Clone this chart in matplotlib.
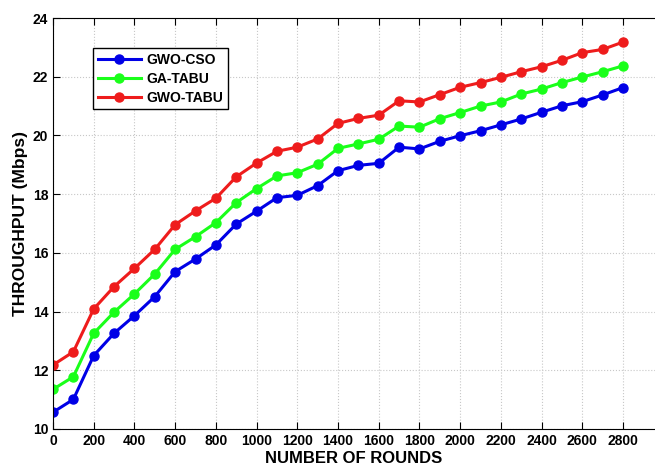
import numpy as np
import matplotlib.pyplot as plt

plt.rcParams['font.family'] = ['Liberation Sans', 'DejaVu Sans']
plt.rcParams['font.weight'] = 'bold'

# Data
rounds = np.arange(0, 2900, 100)
gwo_cso = [10.57, 11.01, 12.50, 13.26, 13.86, 14.51, 15.36, 15.79, 16.27, 16.98,
           17.42, 17.88, 17.96, 18.29, 18.80, 18.98, 19.05, 19.60, 19.54, 19.80,
           19.99, 20.16, 20.36, 20.56, 20.79, 21.01, 21.15, 21.38, 21.63]
ga_tabu = [11.35, 11.78, 13.26, 13.98, 14.60, 15.28, 16.12, 16.55, 17.03, 17.71,
           18.19, 18.62, 18.73, 19.02, 19.56, 19.71, 19.87, 20.32, 20.28, 20.57,
           20.78, 21.00, 21.14, 21.41, 21.58, 21.80, 21.99, 22.17, 22.37]
gwo_tabu = [12.18, 12.63, 14.09, 14.85, 15.47, 16.12, 16.96, 17.43, 17.86, 18.59,
            19.06, 19.46, 19.60, 19.88, 20.41, 20.58, 20.69, 21.18, 21.14, 21.39,
            21.64, 21.80, 21.98, 22.17, 22.34, 22.56, 22.82, 22.93, 23.18]
labels = ['GWO-CSO', 'GA-TABU', 'GWO-TABU']
colors = ['#0000e6', '#1aff1a', '#ee1c1c']

fig = plt.figure(figsize=(6.55, 4.76), dpi=100)
ax = fig.add_axes([53 / 655, 47 / 476, 1 - 53 / 655, 411 / 476])

for y, lab, c in zip([gwo_cso, ga_tabu, gwo_tabu], labels, colors):
    ax.plot(rounds, y, '-o', color=c, lw=2.2, ms=6.5, label=lab)

ax.set_xlim(0, 2957)
ax.set_ylim(10, 24)
ax.set_xticks(np.arange(0, 2900, 200))
ax.set_yticks(np.arange(10, 25, 2))
ax.tick_params(direction='in', top=True, right=False, labelsize=10, length=5)
for lbl in ax.get_xticklabels() + ax.get_yticklabels():
    lbl.set_fontweight('bold')
ax.spines['right'].set_visible(False)
ax.grid(True, linestyle=':', color='#c8c8c8', lw=0.8)

ax.set_xlabel('NUMBER OF ROUNDS', fontsize=12, fontweight='bold', labelpad=2)
ax.set_ylabel('THROUGHPUT (Mbps)', fontsize=12.5, fontweight='bold', labelpad=3)

leg = ax.legend(loc='upper left', bbox_to_anchor=(40 / 602, 1 - 30 / 411),
                borderaxespad=0, fancybox=False, edgecolor='black', framealpha=1,
                prop={'weight': 'bold', 'size': 10}, handlelength=3.1,
                borderpad=0.35, labelspacing=0.35, handletextpad=0.4)
leg.get_frame().set_linewidth(1.0)

fig.savefig('out.png', dpi=100)
